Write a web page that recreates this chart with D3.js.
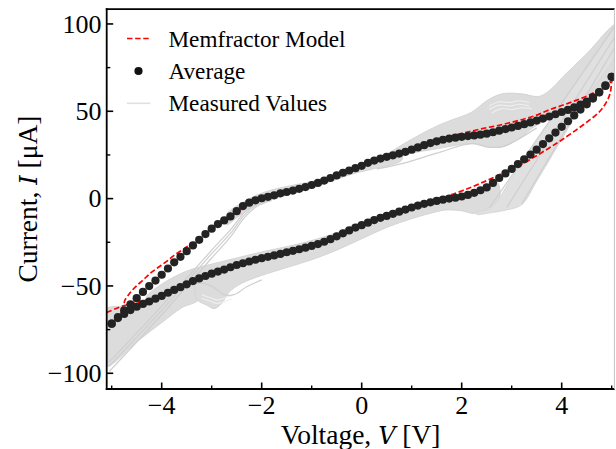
<!DOCTYPE html>
<html><head><meta charset="utf-8">
<script src="https://cdn.jsdelivr.net/npm/d3@7"></script>
<style>body{margin:0;background:#fff}svg{display:block}</style>
</head><body><svg id="c" width="616" height="449"></svg>
<script>
// ---------------- data ----------------
const xTicks = [-4, -2, 0, 2, 4];
const xMinorTicks = [-5, -3, -1, 1, 3, 5];
const yTicks = [-100, -50, 0, 50, 100];
const yMinorTicks = [-75, -25, 25, 75];

const avgVoltage = [-5,-4.875,-4.75,-4.625,-4.5,-4.375,-4.25,-4.125,-4,-3.875,-3.75,-3.625,-3.5,-3.375,-3.25,-3.125,-3,-2.875,-2.75,-2.625,-2.5,-2.375,-2.25,-2.125,-2,-1.875,-1.75,-1.625,-1.5,-1.375,-1.25,-1.125,-1,-0.875,-0.75,-0.625,-0.5,-0.375,-0.25,-0.125,0,0.125,0.25,0.375,0.5,0.625,0.75,0.875,1,1.125,1.25,1.375,1.5,1.625,1.75,1.875,2,2.125,2.25,2.375,2.5,2.625,2.75,2.875,3,3.125,3.25,3.375,3.5,3.625,3.75,3.875,4,4.125,4.25,4.375,4.5,4.625,4.75,4.875,5];
const avgUpper = [-71.6,-67.8,-64.0,-60.5,-57.0,-53.4,-50.1,-46.9,-43.6,-40.0,
  -36.5,-33.3,-30.1,-26.8,-23.6,-20.3,-17.2,-14.6,-12.5,-10.2,
  -7.2,-4.3,-2.3,-1.0,0.2,1.0,1.9,3.0,3.8,4.6,
  5.6,6.6,7.8,9.0,10.3,11.8,13.3,14.8,16.1,17.4,
  18.8,20.5,21.8,22.9,23.9,24.8,25.8,26.8,28.0,29.3,
  30.6,31.8,32.8,33.7,34.4,34.9,35.4,35.8,36.2,36.6,
  37.2,38.0,38.9,39.8,40.7,41.6,42.6,43.6,44.7,45.8,
  47.0,48.3,49.6,50.8,52.2,53.8,55.5,58.0,61.0,64.8,69.7];
const avgLower = [-71.6,-68.4,-66.0,-63.8,-61.9,-60.3,-58.9,-57.3,-55.7,-53.9,
  -52.3,-50.7,-49.1,-47.2,-45.7,-44.3,-43.0,-41.8,-40.6,-39.3,
  -38.0,-37.0,-36.0,-35.0,-34.1,-33.3,-32.5,-31.6,-30.7,-29.9,
  -29.0,-28.1,-27.1,-26.0,-24.7,-23.2,-21.6,-19.9,-18.2,-16.6,
  -15.2,-13.8,-12.3,-11.0,-9.9,-8.7,-7.5,-6.3,-5.1,-4.0,
  -3.0,-2.1,-1.3,-0.6,0.0,0.5,1.2,2.1,3.3,4.8,
  6.4,9.0,11.8,14.4,17.0,19.8,22.5,25.2,28.0,31.2,
  34.5,37.8,41.1,44.3,47.6,51.0,54.0,57.3,60.8,64.5,69.7];

const modelLowerV = [-5.1,-4.75,-4.5,-4.25,-4,-3.5,-3,-2.5,-2,-1.5,-1,-0.5,0,0.5,1,1.25,1.5,1.75,2,2.25,2.5,2.75,3,3.25,3.5,3.75,4,4.25,4.5,4.75,4.9,4.97,5];
const modelLowerI = [-65.2,-61.2,-59.6,-57.6,-55.2,-48.9,-43.1,-38.0,-34.0,-30.6,-27.0,-21.5,-15.2,-9.8,-5.0,-2.7,-0.3,1.8,4.4,7.2,10.3,13.7,17.0,20.5,24.6,29.0,33.6,38.5,43.7,49.6,55.5,60.5,67.5];
const modelUpperV = [-4.75,-4.74,-4.64,-4.52,-4.37,-4.23,-4.08,-3.91,-3.75,-3.59,-3.43,-3.28,-3.14,-2.99,-2.84,-2.68,-2.51,-2.25,-2,-1.5,-1,-0.5,0,0.5,1,1.25,1.5,1.75,2,2.25,2.5,2.75,3,3.25,3.5,3.75,4,4.25,4.5,4.75,5];
const modelUpperI = [-61.2,-58.5,-54.2,-50.4,-46.6,-42.8,-39.6,-36.1,-32.5,-29.4,-26.4,-23.9,-20.6,-17.5,-14.3,-11.4,-8.3,-3.2,-0.2,3.6,7.8,13.3,18.8,24.0,28.6,30.9,33.3,35.5,37.3,39.0,40.6,42.0,43.7,45.6,47.8,50.8,53.3,55.8,58.7,62.3,67.5];

// measured curves (dense bundles of grey traces, given as [V, I] outlines)
const measuredWedge = [[-5.12,-63.5],[-4.75,-61.5],[-4.5,-59.5],[-4.0,-54],[-3.5,-47.5],[-3.25,-45.2],[-3.25,-57.5],[-3.6,-62.5],[-4.0,-71],[-4.5,-82],[-5.12,-96]];
const measuredAboveLower = [[-4.3,-56],[-4.0,-49],[-3.5,-41.5],[-3.0,-37.5],[-2.5,-34],[-2.0,-30.5],[-1.5,-27.5],[-1.0,-24],[-0.5,-19.5],[0,-14],[0,-15.5],[-0.5,-22],[-1,-27.5],[-1.5,-31],[-2,-34.5],[-2.5,-38.5],[-3,-43.5],[-3.5,-49.5],[-4,-56],[-4.3,-59]];
const measuredBelowLower = [[-3.3,-46.5],[-3.0,-43],[-2.5,-38],[-2.0,-34],[-1.5,-30.7],[-1.0,-27.1],[-0.5,-21.6],[0,-15.2],[0.5,-9.9],[1.0,-5.1],[1.5,-1.3],[2.0,1.2],[2.4,5],[2.7,10],[2.75,-1],[2.5,-6],[2.25,-8.5],[2.0,-7],[1.7,-6.5],[1.5,-7.5],[1.0,-11.5],[0.5,-16.5],[0,-23],[-0.5,-29.5],[-1.0,-35],[-1.5,-39.5],[-2.0,-44],[-2.4,-48.5],[-2.65,-53.5],[-2.8,-60],[-2.95,-63],[-3.1,-61],[-3.3,-57.5]];
const measuredUpperMid = [[-2.7,-9],[-2.4,-2.5],[-2.1,2],[-1.8,5],[-1.4,7.5],[-1.0,9.8],[-0.6,13],[-0.2,17.2],[0.3,21.8],[0.8,26.2],[0.8,22],[0.3,17.5],[-0.2,14],[-0.6,10],[-1.0,6],[-1.5,2],[-1.9,-1.5],[-2.2,-5],[-2.5,-11],[-2.7,-15]];
const measuredHump = [[0.3,20.5],[1.0,26],[1.5,28.5],[2.0,31],[2.3,31.5],[2.55,29.5],[2.85,30],[3.1,33.5],[3.5,42],[4.0,48.5],[4.5,55],[4.8,61],[5.12,72],[5.12,100],[4.5,83],[4.0,69],[3.8,63],[3.55,58.5],[3.2,60],[2.8,60],[2.5,56],[2.2,49.5],[1.8,45],[1.5,41.5],[1.0,34],[0.5,25.5],[0.3,22.5]];
const measuredDiagonal = [[2.3,-8],[2.6,-5],[3.0,12],[3.5,33],[4.0,55],[4.5,76],[5.0,97],[5.12,101],[5.12,85],[4.5,58],[4.0,34],[3.5,10],[3.2,-3.5],[2.9,-6.5],[2.6,-8],[2.3,-9]];

const measuredLineA = [[-5.05,-93.5],[-4.0,-61.5],[-3.0,-29.5],[-2.6,-17],[-2.35,-8],[-2.1,-2.5],[-1.8,0.5]];
const measuredLineB = [[-5.05,-99],[-4.0,-66.5],[-3.0,-34],[-2.6,-21],[-2.35,-11],[-2.1,-4.5],[-1.8,-1]];
const measuredLineC = [[-5.05,-96],[-4.0,-64],[-3.0,-31.5],[-2.6,-19],[-2.35,-9.5],[-2.1,-3.5],[-1.8,-0.2]];
const measuredLineBump = [[-3.45,-49],[-3.15,-48.5],[-2.95,-51],[-2.75,-55],[-2.55,-55],[-2.3,-50.5],[-2.0,-46.5]];
const measuredLineUnder = [[0.3,17],[0.87,20.5],[1.5,26],[2.2,31.5],[2.54,29.4],[2.83,29.8],[3.1,33.5],[3.5,40.5]];
const measuredDiagLine1 = [[2.55,-5.5],[5.05,98]];
const measuredDiagLine2 = [[2.9,-5],[5.05,92]];
const measuredDiagLine3 = [[3.2,-3],[5.05,86]];
const measuredStreaks = [
  [[-3.2,-55],[-3.05,-56.5],[-2.9,-58],[-2.75,-57],[-2.6,-55.5]],
  [[-3.2,-57],[-3.05,-58.5],[-2.9,-60],[-2.75,-59],[-2.6,-57.5]],
  [[2.55,53],[2.75,55.5],[2.95,55],[3.15,56],[3.35,55]],
  [[2.55,51],[2.75,53.5],[2.95,53],[3.15,54],[3.35,53]],
  [[2.6,49],[2.8,51.5],[3.0,51],[3.2,52],[3.4,51.5]]
];

const legendLabels = ["Memfractor Model", "Average", "Measured Values"];

// ---------------- layout ----------------
const svg = d3.select("#c");
const x = d3.scaleLinear().domain([-5.1, 5.06]).range([106.7, 614.7]);
const y = d3.scaleLinear().domain([-109, 108.5]).range([389, 9.1]);
const X0 = x.range()[0], X1 = x.range()[1], Y0 = y.range()[1], Y1 = y.range()[0];

svg.append("defs").append("clipPath").attr("id","clip")
  .append("rect").attr("x",X0).attr("y",Y0).attr("width",X1-X0).attr("height",Y1-Y0);
const plot = svg.append("g").attr("clip-path","url(#clip)");

const closed = d3.line().x(d=>x(d[0])).y(d=>y(d[1])).curve(d3.curveCatmullRomClosed.alpha(0.5));
const open = d3.line().x(d=>x(d[0])).y(d=>y(d[1])).curve(d3.curveCatmullRom.alpha(0.5));

// measured grey bundles
[measuredWedge, measuredAboveLower, measuredBelowLower, measuredUpperMid, measuredHump].forEach(p=>{
  plot.append("path").attr("d", closed(p)).attr("fill","#dcdcdc").attr("stroke","#d2d2d2").attr("stroke-width",0.9);
});
plot.append("path").attr("d", closed(measuredDiagonal)).attr("fill","#e0e0e0").attr("stroke","#d6d6d6").attr("stroke-width",0.9);
measuredStreaks.forEach(s=>{
  plot.append("path").attr("d", open(s)).attr("fill","none").attr("stroke","#efefef").attr("stroke-width",1.1);
});
[measuredLineA, measuredLineB, measuredLineC, measuredLineBump, measuredLineUnder, measuredDiagLine1, measuredDiagLine2, measuredDiagLine3].forEach(l=>{
  plot.append("path").attr("d", open(l)).attr("fill","none").attr("stroke","#cfcfcf").attr("stroke-width",1.2);
});

// model (closed loop: lower branch then upper branch back)
const modelPts = modelLowerV.map((v,i)=>[v, modelLowerI[i]])
  .concat(modelUpperV.map((v,i)=>[v, modelUpperI[i]]).reverse());
plot.append("path").attr("d", open(modelPts)).attr("fill","none")
  .attr("stroke","#ff0000").attr("stroke-width",1.7).attr("stroke-dasharray","5.5,2.6");

// average dots
const avgPts = avgVoltage.map((v,i)=>[v, avgUpper[i]]).concat(avgVoltage.map((v,i)=>[v, avgLower[i]]));
plot.selectAll("circle.avg").data(avgPts).enter().append("circle").attr("class","avg")
  .attr("cx",d=>x(d[0])).attr("cy",d=>y(d[1])).attr("r",4.1).attr("fill","#232323");

// spines
const ax = svg.append("g").attr("stroke","#000");
ax.append("line").attr("x1",X0).attr("x2",X0).attr("y1",Y0-0.9).attr("y2",Y1+0.9).attr("stroke-width",1.8);
ax.append("line").attr("x1",X0-0.9).attr("x2",X1).attr("y1",Y1).attr("y2",Y1).attr("stroke-width",1.8);
ax.append("line").attr("x1",X0-0.9).attr("x2",X1).attr("y1",Y0).attr("y2",Y0).attr("stroke-width",1.8);
svg.append("line").attr("x1",X1-0.3).attr("x2",X1-0.3).attr("y1",Y0).attr("y2",Y1).attr("stroke","#c4c4c4").attr("stroke-width",1);

// ticks (inward)
xTicks.forEach(t=>ax.append("line").attr("x1",x(t)).attr("x2",x(t)).attr("y1",Y1).attr("y2",Y1-6.5).attr("stroke-width",1.6));
xMinorTicks.forEach(t=>ax.append("line").attr("x1",x(t)).attr("x2",x(t)).attr("y1",Y1).attr("y2",Y1-3.6).attr("stroke-width",1.4));
yTicks.forEach(t=>ax.append("line").attr("y1",y(t)).attr("y2",y(t)).attr("x1",X0).attr("x2",X0+6.5).attr("stroke-width",1.6));
yMinorTicks.forEach(t=>ax.append("line").attr("y1",y(t)).attr("y2",y(t)).attr("x1",X0).attr("x2",X0+3.6).attr("stroke-width",1.4));

const fmt = d => (d<0 ? "\u2212" + Math.abs(d) : String(d));
const serif = "'Liberation Serif','Times New Roman',serif";
svg.append("g").selectAll("text").data(xTicks).enter().append("text")
  .attr("x",d=>x(d)).attr("y",414).attr("text-anchor","middle")
  .attr("font-family",serif).attr("font-size",26).attr("fill","#000").text(fmt);
svg.append("g").selectAll("text").data(yTicks).enter().append("text")
  .attr("x",101.5).attr("y",d=>y(d)+8.8).attr("text-anchor","end")
  .attr("font-family",serif).attr("font-size",26).attr("fill","#000").text(fmt);

// axis labels
const xl = svg.append("text").attr("x",(X0+X1)/2).attr("y",443.5).attr("text-anchor","middle")
  .attr("font-family",serif).attr("font-size",27.5).attr("fill","#000");
xl.append("tspan").text("Voltage, ");
xl.append("tspan").attr("font-family","'DejaVu Serif',serif").attr("font-style","italic").attr("font-size",24).text("V");
xl.append("tspan").text(" [V]");

const yl = svg.append("text").attr("transform",`translate(36.5,${(Y0+Y1)/2}) rotate(-90)`)
  .attr("text-anchor","middle").attr("font-family",serif).attr("font-size",27.5).attr("fill","#000");
yl.append("tspan").text("Current, ");
yl.append("tspan").attr("font-family","'DejaVu Serif',serif").attr("font-style","italic").attr("font-size",24).text("I");
yl.append("tspan").text(" [\u03bcA]");

// legend
const lg = svg.append("g");
lg.append("line").attr("x1",127).attr("x2",150.5).attr("y1",38.5).attr("y2",38.5)
  .attr("stroke","#ff0000").attr("stroke-width",1.7).attr("stroke-dasharray","5.5,2.6");
lg.append("circle").attr("cx",138.5).attr("cy",71).attr("r",4.1).attr("fill","#111");
lg.append("line").attr("x1",127).attr("x2",150.5).attr("y1",103.3).attr("y2",103.3)
  .attr("stroke","#e0e0e0").attr("stroke-width",1.6);
lg.selectAll("text").data(legendLabels).enter().append("text")
  .attr("x",168.5).attr("y",(d,i)=>46.5+i*32.2)
  .attr("font-family",serif).attr("font-size",23.2).attr("fill","#000").text(d=>d);
</script>
</body></html>
